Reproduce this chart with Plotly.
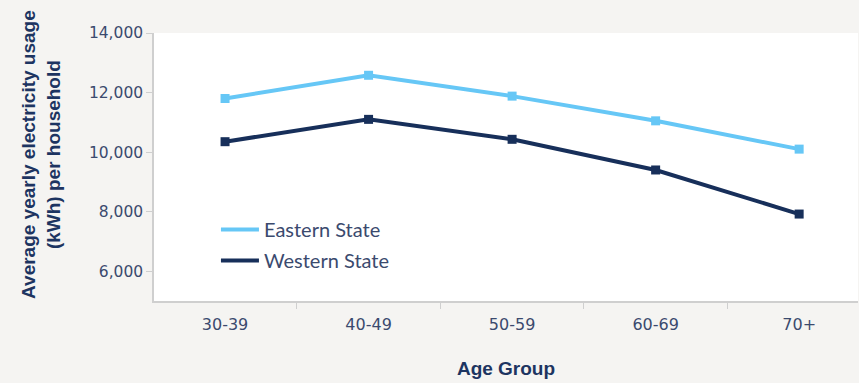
import plotly.graph_objects as go

age_groups = ["30-39", "40-49", "50-59", "60-69", "70+"]
eastern = [11800, 12580, 11880, 11050, 10100]
western = [10350, 11100, 10430, 9400, 7920]
y_ticks = [6000, 8000, 10000, 12000, 14000]

EAST = "#66c7f6"
WEST = "#172f5a"
TXT = "#3b4a6e"
TITLE = "#1d3461"
TICKFONT = "DejaVu Sans, Verdana, sans-serif"
BOLDFONT = "Liberation Sans, Arial, sans-serif"

fig = go.Figure()
for name, vals, col in [("Eastern State", eastern, EAST), ("Western State", western, WEST)]:
    fig.add_trace(go.Scatter(x=age_groups, y=vals, mode="lines+markers", name=name,
                             line=dict(color=col, width=4),
                             marker=dict(symbol="square", size=9, color=col),
                             showlegend=False))
for i, (name, col) in enumerate([("Eastern State", EAST), ("Western State", WEST)]):
    fig.add_trace(go.Scatter(x=[None], y=[None], mode="lines", name=name,
                             line=dict(color=col, width=4), legendgroup=f"g{i}"))

fig.update_layout(
    width=859, height=383,
    margin=dict(l=154, r=1, t=33, b=82),
    paper_bgcolor="#f5f4f2", plot_bgcolor="#ffffff",
    font=dict(family=TICKFONT, color=TXT, size=15),
    legend=dict(x=0.088, y=0.34, xanchor="left", yanchor="top",
                bgcolor="rgba(0,0,0,0)", font=dict(family="Lato, sans-serif", size=20, color=TXT),
                tracegroupgap=2, itemwidth=38),
    xaxis=dict(type="category", range=[-0.495, 4.41], showgrid=False,
               showline=True, linecolor="#cfcfcf", linewidth=1.5,
               ticks="outside", tickson="boundaries", ticklen=6, tickcolor="#cfcfcf",
               tickfont=dict(size=16, color=TXT), ticklabelstandoff=8,
               title=dict(text="<b>Age Group</b>",
                          font=dict(family=BOLDFONT, size=19, color=TITLE), standoff=29)),
    yaxis=dict(range=[5000, 14000], tickvals=y_ticks, tickformat=",", showgrid=False,
               showline=True, linecolor="#cfcfcf", linewidth=1.5, zeroline=False,
               ticks="outside", ticklen=6, tickcolor="#cfcfcf",
               tickfont=dict(size=15.5, color=TXT)),
    annotations=[dict(text="<b>Average yearly electricity usage<br>(kWh) per household</b>",
                      xref="paper", yref="paper", x=-0.1605, y=0.545,
                      xanchor="center", yanchor="middle", textangle=-90, showarrow=False,
                      font=dict(family=BOLDFONT, size=19, color=TITLE))],
)

fig.write_html("out.html")
